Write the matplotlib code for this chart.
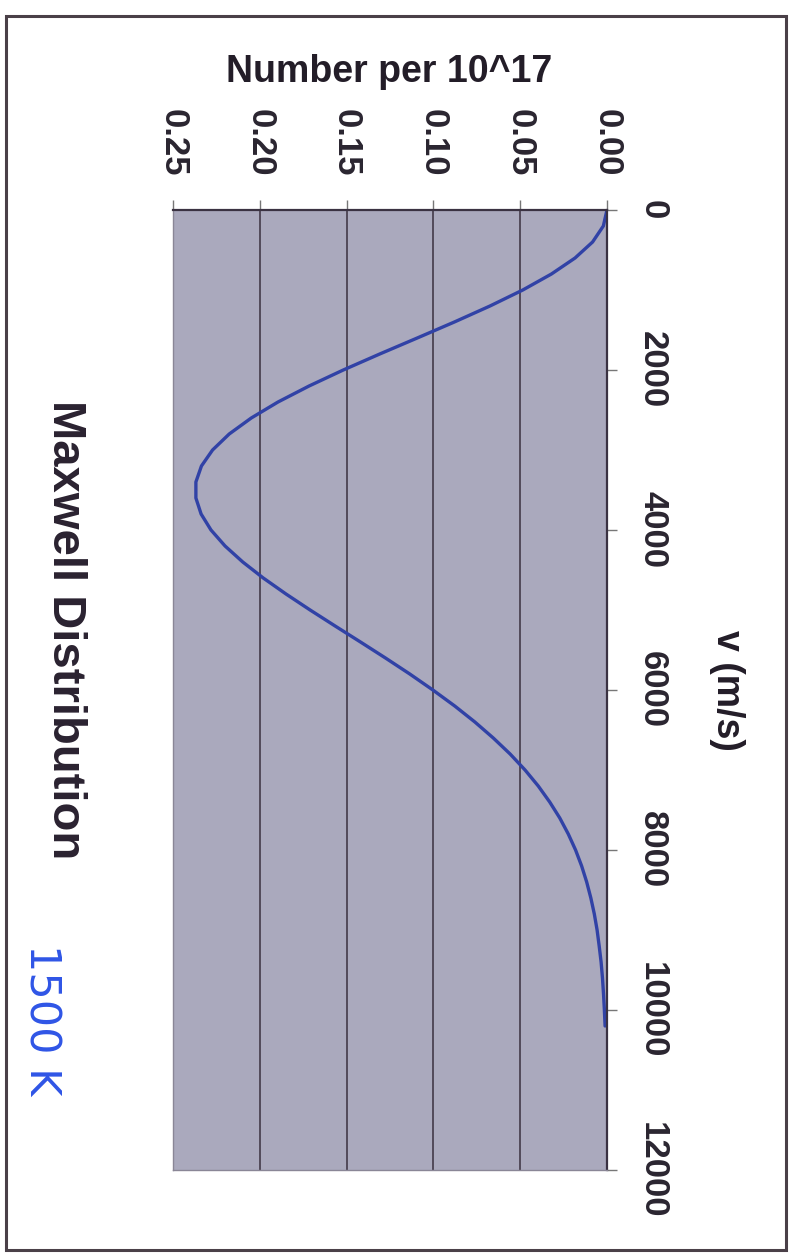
import matplotlib
matplotlib.use("Agg")
import matplotlib.pyplot as plt
from matplotlib.patches import Rectangle

plt.rcParams['font.family'] = ['Liberation Sans', 'DejaVu Sans']

# speed v (m/s) and number per 10^17
speed = [0, 200, 400, 600, 800, 1000, 1200, 1400, 1600, 1800, 2000, 2200,
         2400, 2600, 2800, 3000, 3200, 3400, 3600, 3800, 4000, 4200, 4400,
         4600, 4800, 5000, 5200, 5400, 5600, 5800, 6000, 6200, 6400, 6600,
         6800, 7000, 7200, 7400, 7600, 7800, 8000, 8200, 8400, 8600, 8800,
         9000, 9200, 9400, 9600, 9800, 10000, 10200]
number = [0.0000, 0.0021, 0.0083, 0.0184, 0.0320, 0.0485, 0.0674, 0.0879,
          0.1093, 0.1309, 0.1519, 0.1716, 0.1895, 0.2049, 0.2176, 0.2272,
          0.2336, 0.2368, 0.2368, 0.2338, 0.2281, 0.2200, 0.2098, 0.1980,
          0.1849, 0.1710, 0.1566, 0.1420, 0.1276, 0.1136, 0.1003, 0.0877,
          0.0761, 0.0655, 0.0558, 0.0472, 0.0396, 0.0330, 0.0272, 0.0223,
          0.0181, 0.0146, 0.0117, 0.0093, 0.0073, 0.0057, 0.0045, 0.0034,
          0.0026, 0.0020, 0.0015, 0.0011]

v_ticks = [0, 2000, 4000, 6000, 8000, 10000, 12000]
n_ticks = [0.00, 0.05, 0.10, 0.15, 0.20, 0.25]
n_labels = ['0.00', '0.05', '0.10', '0.15', '0.20', '0.25']

fig = plt.figure(figsize=(7.92, 12.59), dpi=100)
fig.patch.set_facecolor('white')

# outer frame of the scanned chart
fig.patches.append(Rectangle((0.007, 0.007), 0.985, 0.98, transform=fig.transFigure,
                             fill=False, edgecolor='#4a4048', linewidth=2.2))

ax = fig.add_axes([0.2184, 0.0707, 0.548, 0.7625])
ax.set_facecolor('#aaa9bd')

ax.plot(number, speed, color='#3142a6', linewidth=2.4, solid_capstyle='round',
        solid_joinstyle='round')

ax.set_xlim(0.25, 0)
ax.set_ylim(12000, 0)
ax.set_xticks(n_ticks)
ax.set_xticklabels(n_labels)
ax.set_yticks(v_ticks)
ax.xaxis.tick_top()
ax.yaxis.tick_right()

for g in n_ticks[1:-1]:
    ax.axvline(g, color='#4b4252', linewidth=1.3, zorder=1)

ax.tick_params(axis='x', length=7, width=1, color='#777', pad=17,
               labelsize=25, labelcolor='#2a2530', labelrotation=-90)
ax.tick_params(axis='y', length=7, width=1, color='#777', pad=14,
               labelsize=25, labelcolor='#2a2530', labelrotation=-90)
for lab in ax.get_xticklabels() + ax.get_yticklabels():
    lab.set_fontweight('bold')
for lab in ax.get_yticklabels():
    lab.set_verticalalignment('center')

for side in ['top', 'right']:
    ax.spines[side].set_color('#3a3242')
    ax.spines[side].set_linewidth(1.6)
for side in ['left', 'bottom']:
    ax.spines[side].set_color('#8a8696')
    ax.spines[side].set_linewidth(1.0)

ax.set_xlabel('Number per 10^17', fontsize=27, fontweight='bold', color='#231d28',
              ha='center', va='center')
ax.xaxis.set_label_position('top')
ax.xaxis.set_label_coords(0.498, 1.133)
ax.set_ylabel('v (m/s)', fontsize=27, fontweight='bold', color='#231d28',
              rotation=-90, ha='center', va='center')
ax.yaxis.set_label_position('right')
ax.yaxis.set_label_coords(1.318, 0.5)

fig.text(0.082, 0.4996, 'Maxwell Distribution', fontsize=34, fontweight='bold',
         color='#2a2230', rotation=-90, ha='center', va='center')

# handwritten note
fig.text(0.053, 0.19, '1500 K', fontsize=31, color='#2f55e6', rotation=-90,
         ha='center', va='center', family=['DejaVu Sans'])

fig.savefig('out.png', dpi=100)
